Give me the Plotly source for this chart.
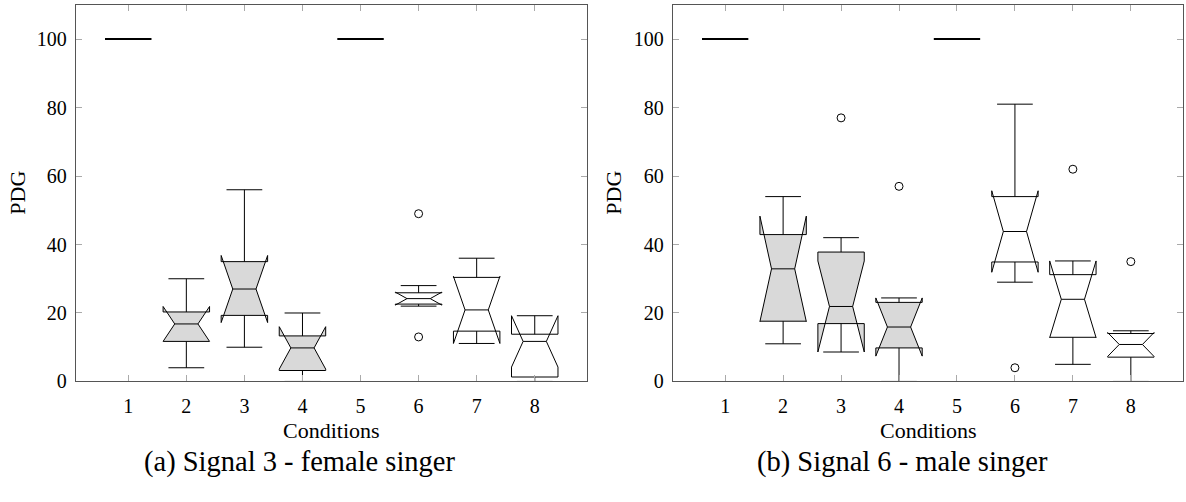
import plotly.graph_objects as go

conditions = [1, 2, 3, 4, 5, 6, 7, 8]
tick_labels = ["1", "2", "3", "4", "5", "6", "7", "8"]

# Signal 3 - female singer: box statistics per condition
s3_lower = [100, 4.0, 10.0, 0.0, 100, 22.0, 12.0, 0.0]
s3_q1 = [100, 11.7, 19.3, 3.2, 100, 22.6, 14.7, 1.3]
s3_median = [100, 16.8, 27.0, 9.8, 100, 24.2, 20.9, 11.7]
s3_q3 = [100, 20.3, 35.0, 13.3, 100, 25.9, 30.4, 13.8]
s3_upper = [100, 30.0, 56.0, 20.0, 100, 28.0, 36.0, 16.7]
s3_notch = [0, 5.1, 9.8, 6.2, 0, 1.9, 9.8, 7.5]
s3_out_cond = [6, 6]
s3_out_val = [49, 13]

# Signal 6 - male singer: box statistics per condition
s6_lower = [100, 11.0, 9.0, 0.0, 100, 29.0, 5.0, 0.0]
s6_q1 = [100, 17.6, 16.9, 9.8, 100, 34.9, 12.9, 7.1]
s6_median = [100, 32.9, 21.9, 15.9, 100, 43.8, 24.0, 10.8]
s6_q3 = [100, 42.9, 37.8, 23.1, 100, 54.0, 31.2, 14.0]
s6_upper = [100, 54.0, 42.0, 23.8, 100, 81.0, 32.0, 14.8]
s6_notch = [0, 15.4, 13.3, 8.5, 0, 11.9, 11.2, 3.5]
s6_out_cond = [3, 4, 6, 7, 8]
s6_out_val = [77, 57, 4, 62, 35]

FONT = "Liberation Serif, DejaVu Serif, serif"
W, H = 1186, 502

groups = [
    ([1, 2, 3], "#d9d9d9", 1.0, True),   # filled boxes
    ([5, 6, 7], "#ffffff", 1.0, True),   # open boxes
    ([0, 4], "#ffffff", 2.0, False),     # constant conditions
]

panels = [
    ("x", "y", s3_lower, s3_q1, s3_median, s3_q3, s3_upper, s3_notch, s3_out_cond, s3_out_val),
    ("x2", "y2", s6_lower, s6_q1, s6_median, s6_q3, s6_upper, s6_notch, s6_out_cond, s6_out_val),
]

fig = go.Figure()
for xa, ya, lo, q1, med, q3, up, nspan, oc, ov in panels:
    for idx, fill, lw, notched in groups:
        fig.add_trace(go.Box(
            x=[conditions[i] for i in idx],
            q1=[q1[i] for i in idx],
            median=[med[i] for i in idx],
            q3=[q3[i] for i in idx],
            lowerfence=[lo[i] for i in idx],
            upperfence=[up[i] for i in idx],
            notchspan=[nspan[i] for i in idx] if notched else None,
            notched=notched,
            notchwidth=0.25,
            whiskerwidth=0.77,
            width=0.8,
            boxpoints=False,
            fillcolor=fill,
            line=dict(color="black", width=lw),
            xaxis=xa, yaxis=ya,
            showlegend=False, hoverinfo="skip",
        ))
    fig.add_trace(go.Scatter(
        x=oc, y=ov, mode="markers",
        marker=dict(symbol="circle-open", size=8, color="black", line=dict(width=1)),
        xaxis=xa, yaxis=ya, showlegend=False, hoverinfo="skip",
    ))

axis_common = dict(
    showgrid=False, zeroline=False, showline=True, mirror="ticks",
    linecolor="#555555", linewidth=1.3,
    ticks="inside", ticklen=6, tickcolor="#aaaaaa", tickwidth=1,
    tickfont=dict(family=FONT, size=20, color="black"),
)

y_dom = [1 - 390 / H, 1 - 5 / H]
fig.update_layout(
    width=W, height=H,
    margin=dict(l=0, r=0, t=0, b=0),
    paper_bgcolor="white", plot_bgcolor="white",
    boxmode="overlay",
    xaxis=dict(domain=[76 / W, 587 / W], range=[0.1, 8.9], anchor="y",
               tickvals=conditions, ticktext=tick_labels, ticklabelstandoff=6, **axis_common),
    yaxis=dict(domain=y_dom, range=[0, 110], anchor="x",
               tickvals=[0, 20, 40, 60, 80, 100], ticklabelstandoff=4, **axis_common),
    xaxis2=dict(domain=[673 / W, 1183 / W], range=[0.1, 8.9], anchor="y2",
                tickvals=conditions, ticktext=tick_labels, ticklabelstandoff=6, **axis_common),
    yaxis2=dict(domain=y_dom, range=[0, 110], anchor="x2",
                tickvals=[0, 20, 40, 60, 80, 100], ticklabelstandoff=4, **axis_common),
)

def note(text, x, y, size, angle=0):
    fig.add_annotation(text=text, x=x / W, y=1 - y / H, xref="paper", yref="paper",
                       showarrow=False, textangle=angle, xanchor="center", yanchor="middle",
                       font=dict(family=FONT, size=size, color="black"))

note("Conditions", 331, 440, 22)
note("Conditions", 928, 440, 22)
note("PDG", 18, 197, 22, angle=-90)
note("PDG", 614, 197, 22, angle=-90)
note("(a) Signal 3 - female singer", 300, 472, 28.5)
note("(b) Signal 6 - male singer", 902, 472, 28.5)

fig.write_html("out.html")
